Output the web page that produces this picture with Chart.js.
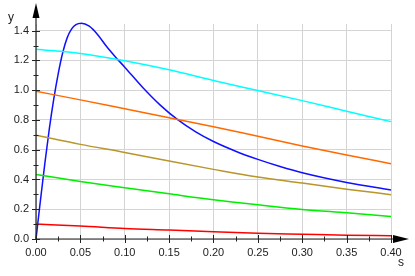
<!DOCTYPE html>
<html>
<head>
<meta charset="utf-8">
<script src="https://cdn.jsdelivr.net/npm/chart.js@4"></script>
<style>
    html, body { margin: 0; padding: 0; background: #fff; }
    #wrap { width: 415px; height: 276px; position: relative; }
</style>
</head>
<body>
<div id="wrap"><canvas id="chart"></canvas></div>
<script>
// s values shared by the slowly decaying curves
const sValues = [0, 0.05, 0.1, 0.15, 0.2, 0.25, 0.3, 0.35, 0.4];
const cyanY   = [1.276, 1.247, 1.198, 1.137, 1.065, 0.998, 0.930, 0.859, 0.789];
const orangeY = [0.993, 0.935, 0.875, 0.815, 0.755, 0.690, 0.625, 0.565, 0.506];
const oliveY  = [0.697, 0.636, 0.582, 0.524, 0.468, 0.416, 0.376, 0.335, 0.298];
const greenY  = [0.434, 0.387, 0.345, 0.304, 0.264, 0.230, 0.199, 0.176, 0.152];
const redY    = [0.100, 0.088, 0.071, 0.060, 0.048, 0.038, 0.032, 0.026, 0.022];

// the blue pulse needs its own, denser samples
const blueS = [0, 0.005, 0.01, 0.015, 0.02, 0.025, 0.03, 0.035, 0.04, 0.045, 0.051,
               0.06, 0.07, 0.08, 0.09, 0.1, 0.12, 0.14, 0.16, 0.18, 0.2, 0.225, 0.25,
               0.275, 0.3, 0.35, 0.4];
const blueY = [0, 0.26, 0.51, 0.74, 0.94, 1.11, 1.25, 1.35, 1.41, 1.44, 1.45,
               1.43, 1.37, 1.29, 1.22, 1.155, 1.02, 0.90, 0.80, 0.72, 0.655, 0.59, 0.535,
               0.487, 0.445, 0.38, 0.33];

const xTicksStep = 0.05;
const yTicksStep = 0.2;
const xMax = 0.4;
const yMax = 1.445;

const axisColor = '#222';
const fontFamily = "'Liberation Sans', Arial, sans-serif";

function pts(xs, ys) {
    return xs.map((x, i) => ({ x: x, y: ys[i] }));
}

function line(label, xs, ys, color) {
    return {
        label: label,
        data: pts(xs, ys),
        borderColor: color,
        borderWidth: 1.5,
        pointRadius: 0,
        fill: false,
        clip: 6,
        cubicInterpolationMode: 'monotone'
    };
}

// axes with arrows, minor/major tick marks and axis names
const axesPlugin = {
    id: 'axes',
    afterDraw(chart) {
        const ctx = chart.ctx;
        const xs = chart.scales.x, ys = chart.scales.y;
        const x0 = xs.getPixelForValue(0);
        const y0 = ys.getPixelForValue(0);
        const area = chart.chartArea;
        ctx.save();
        ctx.strokeStyle = axisColor;
        ctx.fillStyle = '#000';
        ctx.lineWidth = 1.2;

        ctx.beginPath();
        ctx.moveTo(x0, y0);
        ctx.lineTo(x0, 12);
        ctx.moveTo(x0, y0);
        ctx.lineTo(area.right + 6, y0);
        ctx.stroke();

        // tick marks
        ctx.lineWidth = 1;
        ctx.beginPath();
        for (let v = 0; v <= xMax + 1e-9; v += xTicksStep / 2) {
            const px = Math.round(xs.getPixelForValue(v)) + 0.5;
            const major = Math.abs(v / xTicksStep - Math.round(v / xTicksStep)) < 1e-6;
            const h = major ? 4 : 2.5;
            ctx.moveTo(px, y0 - h);
            ctx.lineTo(px, y0 + h);
        }
        for (let v = 0; v <= 1.4 + 1e-9; v += yTicksStep / 2) {
            const py = Math.round(ys.getPixelForValue(v)) + 0.5;
            const major = Math.abs(v / yTicksStep - Math.round(v / yTicksStep)) < 1e-6;
            const h = major ? 4 : 2.5;
            ctx.moveTo(x0 - h, py);
            ctx.lineTo(x0 + h, py);
        }
        ctx.stroke();

        // arrow heads
        ctx.beginPath();
        ctx.moveTo(x0, 3);
        ctx.lineTo(x0 - 3.5, 18);
        ctx.lineTo(x0 + 3.5, 18);
        ctx.closePath();
        ctx.fill();
        ctx.beginPath();
        ctx.moveTo(409, y0);
        ctx.lineTo(393, y0 - 4);
        ctx.lineTo(393, y0 + 4);
        ctx.closePath();
        ctx.fill();

        // axis names
        ctx.fillStyle = axisColor;
        ctx.font = '12px ' + fontFamily;
        ctx.textAlign = 'center';
        ctx.textBaseline = 'middle';
        ctx.fillText('y', 11, 18);
        ctx.fillText('s', 401, 263);
        ctx.restore();
    }
};

const ctx = document.getElementById('chart').getContext('2d');
const chart = new Chart(ctx, {
    type: 'line',
    data: {
        datasets: [
            line('cyan', sValues, cyanY, '#00ffff'),
            line('orange', sValues, orangeY, '#ff6a00'),
            line('olive', sValues, oliveY, '#b8962a'),
            line('green', sValues, greenY, '#00ee00'),
            line('red', sValues, redY, '#ff0000'),
            line('blue', blueS, blueY, '#1010ff')
        ]
    },
    options: {
        responsive: true,
        maintainAspectRatio: false,
        animation: false,
        layout: { padding: { top: 24, right: 24, left: 0, bottom: 0 } },
        plugins: {
            legend: { display: false },
            tooltip: { enabled: false }
        },
        scales: {
            x: {
                type: 'linear',
                min: 0,
                max: xMax,
                afterFit: s => { s.height = 37; },
                border: { display: false },
                grid: { color: '#d4d4d4', lineWidth: 1, drawTicks: false },
                ticks: {
                    stepSize: xTicksStep,
                    includeBounds: false,
                    padding: 7,
                    maxRotation: 0,
                    color: axisColor,
                    font: { family: fontFamily, size: 11 },
                    callback: v => v.toFixed(2)
                }
            },
            y: {
                type: 'linear',
                min: 0,
                max: yMax,
                afterFit: s => { s.width = 36; },
                border: { display: false },
                grid: { color: '#d4d4d4', lineWidth: 1, drawTicks: false },
                ticks: {
                    stepSize: yTicksStep,
                    includeBounds: false,
                    padding: 7,
                    color: axisColor,
                    font: { family: fontFamily, size: 11 },
                    callback: v => v.toFixed(1)
                }
            }
        }
    },
    plugins: [axesPlugin]
});
</script>
</body>
</html>
